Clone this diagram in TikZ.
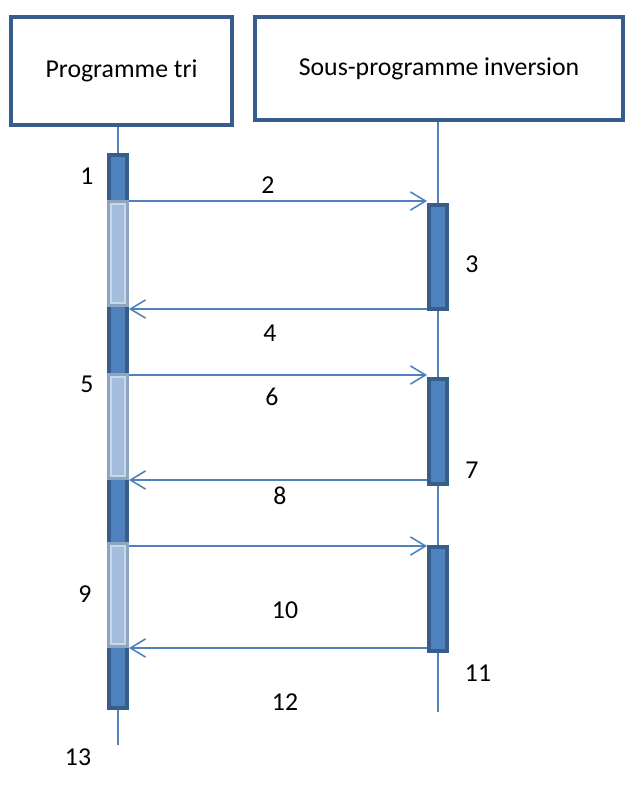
\documentclass[tikz,border=0pt]{standalone}
\usepackage{fontspec}
\setmainfont{Carlito}
\usetikzlibrary{arrows.meta}
\definecolor{lineblue}{HTML}{4F81BD}
\definecolor{darkblue}{HTML}{385D8A}
\definecolor{paleblue}{HTML}{A5BDDC}
\definecolor{paleedge}{HTML}{CAD8EB}
\definecolor{grayedge}{HTML}{8FA4C0}
\def\u{0.45pt}

\tikzset{
  object/.style={draw=darkblue, line width=1.8pt, fill=white},
  life/.style={draw=lineblue, line width=0.7pt},
  bar/.style={draw=darkblue, fill=lineblue, line width=2pt, minimum width=17.5*\u, inner sep=0pt},
  callbox/.style={draw=grayedge, fill=paleblue, line width=1.3pt, minimum width=19*\u, inner sep=0pt,
    path picture={\draw[paleedge, line width=0.8pt]
      ([shift={(1.2pt,-1.2pt)}]path picture bounding box.north west) rectangle
      ([shift={(-1.2pt,1.2pt)}]path picture bounding box.south east);}},
  msg/.style={draw=lineblue, line width=0.7pt}
}

\begin{document}
\begin{tikzpicture}[x=\u, y=-\u, >={Straight Barb[length=6.8pt, width=8.2pt]},
    font=\fontsize{11.6}{14}\selectfont]
  \useasboundingbox (0,0) rectangle (634,785);
  \def\xl{118}  % lifeline Programme tri
  \def\xr{438}  % lifeline Sous-programme inversion
  % objects
  \node[object, minimum width=221*\u, minimum height=108*\u] (tri) at (121.5,71) {Programme tri};
  \node[object, minimum width=368*\u, minimum height=103*\u] (inv) at (439,68.5) {Sous-programme inversion};
  % lifelines
  \coordinate (endL) at (\xl,745);
  \coordinate (endR) at (\xr,712);
  \draw[life] (endL |- tri.south) -- (endL);
  \draw[life] (endR |- inv.south) -- (endR);
  % activations
  \node[bar, minimum height=553*\u] (main) at (\xl,431.5) {};
  \node[callbox, minimum height=104*\u] (c1) at (\xl,253.5) {};
  \node[callbox, minimum height=104*\u] (c2) at (\xl,426.5) {};
  \node[callbox, minimum height=103*\u] (c3) at (\xl,595) {};
  \node[bar, minimum height=104*\u] (act1) at (\xr,257) {};
  \node[bar, minimum height=105*\u] (act2) at (\xr,431.5) {};
  \node[bar, minimum height=104*\u] (act3) at (\xr,599) {};
  % messages
  \draw[msg,->] (c1.east |- 0,201) -- (act1.west |- 0,201);
  \draw[msg,->] (act1.west |- 0,309) -- (c1.east |- 0,309);
  \draw[msg,->] (c2.east |- 0,375) -- (act2.west |- 0,375);
  \draw[msg,->] (act2.west |- 0,480) -- (c2.east |- 0,480);
  \draw[msg,->] (c3.east |- 0,546) -- (act3.west |- 0,546);
  \draw[msg,->] (act3.west |- 0,648) -- (c3.east |- 0,648);
  % step numbers
  \node (n1) at (87,176) {1};
  \node (n2) at (268,185) {2};
  \node (n3) at (472,264) {3};
  \node (n4) at (270,333) {4};
  \node (n5) at (87,384) {5};
  \node (n6) at (272,397) {6};
  \node (n7) at (472,470) {7};
  \node (n8) at (280,496) {8};
  \node (n9) at (85,594) {9};
  \node (n10) at (285,610) {10};
  \node (n11) at (478,673) {11};
  \node (n12) at (285,702) {12};
  \node (n13) at (78,757) {13};
\end{tikzpicture}
\end{document}
